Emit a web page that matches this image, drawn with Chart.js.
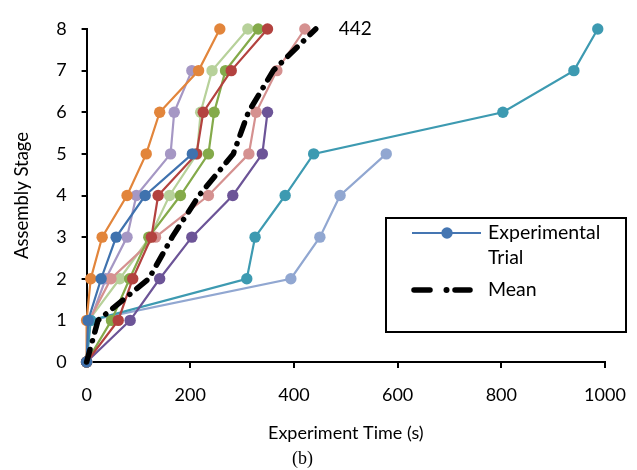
<!DOCTYPE html>
<html>
<head>
<meta charset="utf-8">
<script src="https://cdn.jsdelivr.net/npm/chart.js@4.4.1/dist/chart.umd.min.js"></script>
<style>
  html, body { margin: 0; padding: 0; background: #fff; }
  #wrap { width: 637px; height: 470px; position: relative; }
</style>
</head>
<body>
<div id="wrap"><canvas id="c" width="637" height="470"></canvas></div>
<script>
// Assembly stages (y) and the time (s) each trial reached each stage (index = stage)
const stages = [0, 1, 2, 3, 4, 5, 6, 7, 8];
const xTicks = [0, 200, 400, 600, 800, 1000];

const trialOrange      = [0, 0, 8, 30, 78, 115, 141, 216, 257];
const trialBlue        = [0, 3, 28, 57, 113, 204];
const trialLightPurple = [0, 7, 37, 78, 96, 162, 169, 203];
const trialRed         = [0, 61, 89, 125, 138, 212, 225, 279, 349];
const trialLightGreen  = [0, 4, 64, 122, 160, 213, 220, 242, 311];
const trialGreen       = [0, 48, 83, 120, 181, 235, 246, 268, 331];
const trialPink        = [0, 5, 47, 133, 235, 313, 327, 367, 421];
const trialPurple      = [0, 84, 141, 203, 282, 339, 349];
const trialTeal        = [0, 8, 309, 325, 383, 438, 803, 940, 986];
const trialLightBlue   = [0, 6, 394, 450, 489, 578];
const meanTimes        = [0, 22, 120, 165, 217, 283, 312, 360, 442];

const meanLabel = "442";
const legendTrial = ["Experimental", "Trial"];
const legendMean = "Mean";

const trials = [
  { data: trialBlue,        color: '#3F72AE' },
  { data: trialRed,         color: '#B3423F' },
  { data: trialGreen,       color: '#84AA4A' },
  { data: trialPurple,      color: '#6C5497' },
  { data: trialTeal,        color: '#3D9AB1' },
  { data: trialOrange,      color: '#E2853B' },
  { data: trialLightBlue,   color: '#91A7D1' },
  { data: trialPink,        color: '#D59190' },
  { data: trialLightGreen,  color: '#B7D19A' },
  { data: trialLightPurple, color: '#A597C4' }
];

function toPoints(times) {
  return times.map((t, i) => ({ x: t, y: stages[i] }));
}

const FONT = 'Lato, "Open Sans", sans-serif';

const datasets = trials.map((t, i) => ({
  label: 'Experimental Trial ' + (i + 1),
  data: toPoints(t.data),
  showLine: true,
  clip: false,
  borderColor: t.color,
  backgroundColor: t.color,
  pointBackgroundColor: t.color,
  pointBorderColor: t.color,
  pointBorderWidth: 0,
  pointRadius: 5.7,
  borderWidth: 2.2,
  order: 1
}));

datasets.push({
  label: 'Mean',
  data: toPoints(meanTimes),
  showLine: true,
  clip: false,
  borderColor: '#000',
  backgroundColor: '#000',
  borderWidth: 5.5,
  borderDash: [13, 9, 0.1, 9],
  borderCapStyle: 'round',
  pointRadius: 0,
  order: 0
});

const overlayPlugin = {
  id: 'overlay',
  afterDatasetsDraw(chart) {
    const ctx = chart.ctx;
    // label at the end of the mean line
    const meanIdx = chart.data.datasets.length - 1;
    const meta = chart.getDatasetMeta(meanIdx);
    const last = meta.data[meta.data.length - 1];
    ctx.save();
    ctx.font = '19px ' + FONT;
    ctx.fillStyle = '#000';
    ctx.textBaseline = 'middle';
    ctx.textAlign = 'left';
    ctx.fillText(meanLabel, last.x + 23, last.y);
    ctx.restore();

    // legend box
    const bx = 386, by = 218, bw = 240, bh = 114;
    ctx.save();
    ctx.fillStyle = '#fff';
    ctx.fillRect(bx, by, bw, bh);
    ctx.strokeStyle = '#000';
    ctx.lineWidth = 2;
    ctx.strokeRect(bx, by, bw, bh);
    // trial entry
    ctx.strokeStyle = '#4576B2';
    ctx.lineWidth = 2.2;
    ctx.beginPath(); ctx.moveTo(412, 233); ctx.lineTo(481, 233); ctx.stroke();
    ctx.fillStyle = '#4576B2';
    ctx.beginPath(); ctx.arc(447, 233, 5.7, 0, Math.PI * 2); ctx.fill();
    // mean entry: dash, dot, dash
    ctx.strokeStyle = '#000';
    ctx.lineWidth = 5.5;
    ctx.lineCap = 'round';
    ctx.beginPath(); ctx.moveTo(414, 290); ctx.lineTo(430, 290); ctx.stroke();
    ctx.beginPath(); ctx.moveTo(455, 290); ctx.lineTo(470, 290); ctx.stroke();
    ctx.fillStyle = '#000';
    ctx.beginPath(); ctx.arc(446.5, 290, 3, 0, Math.PI * 2); ctx.fill();
    ctx.font = '19.5px ' + FONT;
    ctx.textBaseline = 'middle';
    ctx.textAlign = 'left';
    ctx.fillText(legendTrial[0], 488, 233);
    ctx.fillText(legendTrial[1], 488, 258);
    ctx.fillText(legendMean, 488, 290);
    ctx.restore();
  }
};

new Chart(document.getElementById('c'), {
  type: 'scatter',
  data: { datasets },
  options: {
    responsive: false,
    animation: false,
    devicePixelRatio: 1,
    layout: { padding: { left: 0, top: 29, right: 32, bottom: 0 } },
    plugins: {
      legend: { display: false },
      tooltip: { enabled: false },
      title: {
        display: true,
        text: '(b)',
        position: 'bottom',
        color: '#000',
        font: { family: '"Liberation Serif", "Times New Roman", serif', size: 18, weight: 'normal' },
        padding: { top: 2, bottom: 0 }
      }
    },
    scales: {
      x: {
        type: 'linear',
        min: 0, max: 1000,
        afterBuildTicks(axis) { axis.ticks = xTicks.map(v => ({ value: v })); },
        afterFit(axis) { axis.height = 84.4; axis.paddingRight = 0; axis.paddingLeft = 0; },
        ticks: { color: '#000', font: { family: FONT, size: 18 }, padding: 16, callback: v => String(v) },
        grid: { display: true, drawOnChartArea: false, drawTicks: true, tickLength: 6, color: '#000', lineWidth: 2 },
        border: { display: true, color: '#000', width: 2 },
        title: { display: true, text: 'Experiment Time (s)', color: '#000', font: { family: FONT, size: 18 }, padding: { top: 0, bottom: 2 } }
      },
      y: {
        type: 'linear',
        min: 0, max: 8,
        afterBuildTicks(axis) { axis.ticks = stages.map(v => ({ value: v })); },
        afterFit(axis) { axis.width = 86.6; },
        ticks: { color: '#000', font: { family: FONT, size: 18 }, padding: 15, callback: v => String(v) },
        grid: { display: true, drawOnChartArea: false, drawTicks: true, tickLength: 5, color: '#000', lineWidth: 2 },
        border: { display: true, color: '#000', width: 2 },
        title: { display: true, text: 'Assembly Stage', color: '#000', font: { family: FONT, size: 18.5 }, padding: { top: 11, bottom: 0 } }
      }
    }
  },
  plugins: [overlayPlugin]
});
</script>
</body>
</html>
